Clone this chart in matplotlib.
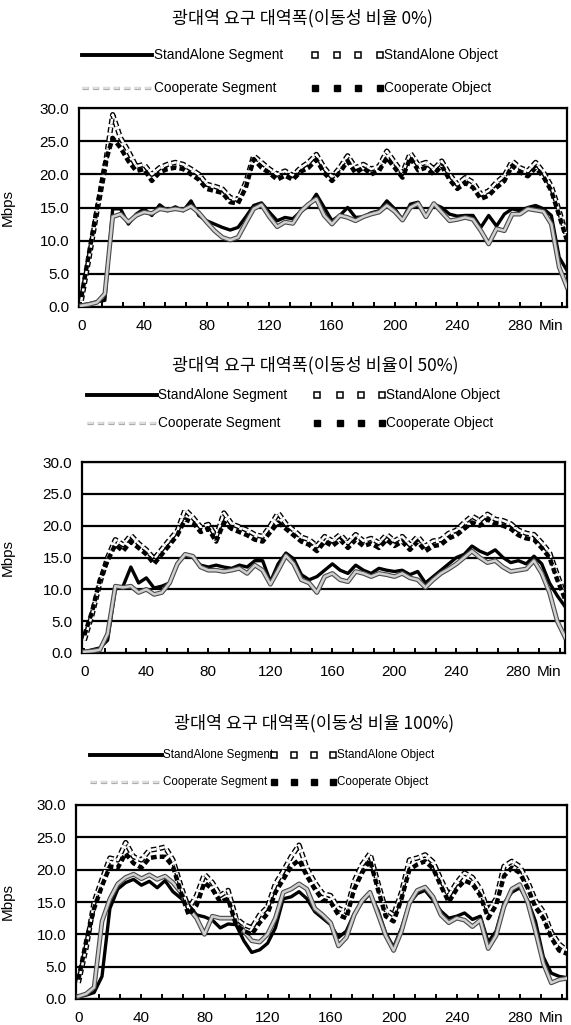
import matplotlib
matplotlib.use('Agg')
import matplotlib.pyplot as plt
import matplotlib.patheffects as pe
from matplotlib.lines import Line2D
from matplotlib.ticker import FixedLocator, FormatStrFormatter
from matplotlib import font_manager

plt.rcParams['font.family'] = ['Liberation Sans', 'DejaVu Sans']

# ---------------- data ----------------
minutes = list(range(0, 311, 5))
x_tick_values = [0, 40, 80, 120, 160, 200, 240, 280]
y_tick_values = [0, 5, 10, 15, 20, 25, 30]
series_names = ['StandAlone Segment', 'StandAlone Object',
                'Cooperate Segment', 'Cooperate Object']
titles = ['광대역 요구 대역폭(이동성 비율 0%)',
          '광대역 요구 대역폭(이동성 비율이 50%)',
          '광대역 요구 대역폭(이동성 비율 100%)']

p1_sa_seg = [0.3, 0.5, 0.8, 1.0, 14.8, 14.8, 12.5, 14.0, 14.8, 13.8,
             15.4, 14.5, 15.1, 14.5, 16.0, 13.8, 13.0, 12.5, 12.0, 11.6,
             12.0, 13.6, 15.3, 15.7, 14.3, 13.0, 13.5, 13.3, 14.4, 15.2,
             17.0, 15.0, 13.0, 13.8, 15.0, 13.5, 13.6, 14.2, 14.5, 16.0,
             14.8, 13.2, 15.5, 15.8, 13.6, 15.5, 15.0, 14.0, 13.7, 13.8,
             13.8, 12.0, 13.8, 12.2, 14.0, 14.8, 14.5, 15.0, 15.3, 14.8,
             13.8, 7.5, 5.5]
p1_co_seg = [0.2, 0.4, 0.7, 2.0, 13.6, 14.0, 12.8, 13.8, 14.3, 14.1,
             14.8, 14.6, 14.8, 14.6, 15.2, 14.2, 12.8, 11.5, 10.5, 10.1,
             10.5, 12.7, 14.8, 15.4, 13.6, 12.1, 12.8, 12.6, 14.4, 15.5,
             16.3, 13.8, 12.5, 13.8, 13.5, 13.0, 13.6, 14.0, 14.3, 15.3,
             14.4, 13.1, 15.0, 15.6, 13.6, 15.6, 14.3, 13.0, 13.2, 13.5,
             13.2, 11.5, 9.5, 11.8, 11.5, 14.0, 14.0, 14.8, 14.6, 14.4,
             12.5, 6.0, 3.0]
p1_co_obj = [1.5, 8.3, 15.0, 21.5, 25.5, 24.0, 22.0, 20.5, 20.8, 19.0,
             20.3, 20.8, 21.0, 20.8, 20.0, 19.2, 17.8, 17.5, 17.2, 15.8,
             15.6, 18.0, 22.3, 21.0, 20.2, 19.2, 19.8, 19.2, 20.4, 21.0,
             22.2, 20.2, 19.0, 20.3, 22.0, 20.2, 21.0, 20.0, 20.5, 22.5,
             21.0, 19.5, 22.5, 20.6, 21.0, 20.0, 21.3, 19.2, 17.8, 18.7,
             18.0, 16.3, 16.8, 18.0, 19.0, 21.3, 20.3, 19.7, 21.0, 19.6,
             17.5, 13.8, 10.0]
p1_sa_obj = [1.0, 7.5, 14.5, 21.0, 29.0, 25.5, 23.5, 21.2, 21.5, 20.0,
             21.0, 21.5, 21.8, 21.5, 20.8, 20.0, 18.5, 18.2, 17.8, 16.5,
             16.2, 18.8, 22.8, 21.8, 20.8, 20.0, 20.5, 19.8, 21.0, 21.8,
             23.0, 21.0, 19.6, 21.0, 22.8, 21.0, 21.5, 20.8, 21.2, 23.5,
             21.8, 20.2, 23.2, 21.4, 21.8, 20.8, 22.0, 20.0, 18.5, 19.5,
             18.8, 17.0, 17.5, 18.8, 19.8, 22.0, 21.0, 20.5, 21.8, 20.3,
             18.2, 14.5, 10.5]

p2_sa_seg = [0.2, 0.5, 0.8, 2.0, 10.0, 10.5, 13.5, 11.0, 11.8, 10.2,
             10.5, 11.0, 14.0, 15.5, 15.0, 13.8, 13.5, 13.8, 13.5, 13.3,
             13.8, 13.5, 14.5, 14.5, 11.2, 14.0, 15.7, 14.8, 12.3, 11.5,
             12.0, 13.0, 14.0, 13.0, 12.5, 13.8, 13.0, 12.5, 13.3, 13.0,
             12.8, 13.0, 12.3, 12.8, 11.0, 12.0, 13.0, 14.0, 15.0, 15.5,
             16.8, 16.0, 15.5, 16.2, 15.0, 14.2, 14.5, 14.0, 15.2, 14.0,
             11.0, 9.0, 7.3]
p2_co_seg = [0.2, 0.3, 0.5, 3.0, 10.5, 10.3, 10.5, 9.5, 10.0, 9.2,
             9.5, 11.0, 14.0, 15.5, 15.2, 13.5, 13.0, 13.0, 12.8, 13.0,
             13.3, 12.5, 13.8, 13.0, 10.8, 13.0, 15.3, 14.0, 11.5, 11.0,
             9.5, 12.0, 12.5, 11.5, 11.2, 12.8, 12.5, 12.0, 12.5, 12.3,
             12.0, 12.5, 11.8, 11.5, 10.3, 11.5, 12.5, 13.2, 14.0, 15.0,
             16.0, 15.0, 14.2, 14.5, 13.5, 12.8, 13.0, 13.2, 14.5, 12.5,
             9.5, 5.0, 2.5]
p2_co_obj = [2.8, 6.5, 11.5, 14.5, 17.0, 16.0, 17.5, 16.5, 15.5, 14.0,
             15.5, 17.0, 18.5, 21.0, 20.5, 19.0, 19.5, 17.5, 20.5, 19.5,
             19.0, 18.5, 17.8, 17.5, 19.0, 20.5, 19.5, 18.5, 17.5, 17.0,
             16.0, 17.5, 16.8, 17.8, 16.5, 17.8, 16.8, 17.2, 16.5, 17.8,
             16.8, 17.5, 16.2, 17.5, 16.0, 16.8, 17.0, 18.0, 18.5, 19.5,
             20.5, 20.0, 21.0, 20.3, 20.0, 19.5, 18.5, 18.0, 17.8, 16.5,
             15.0, 11.5, 8.5]
p2_sa_obj = [2.0, 6.0, 11.0, 15.0, 17.8, 17.0, 18.5, 17.2, 16.2, 14.8,
             16.3, 17.8, 19.2, 22.5, 21.3, 19.8, 20.2, 18.3, 22.0, 20.3,
             19.8, 19.3, 18.6, 18.3, 20.0, 22.0, 20.3, 19.3, 18.2, 17.8,
             16.8, 18.3, 17.6, 18.6, 17.3, 18.6, 17.6, 18.0, 17.3, 18.6,
             17.6, 18.3, 17.0, 18.3, 16.8, 17.6, 17.8, 18.8, 19.3, 20.5,
             21.5, 20.8, 21.8, 21.0, 20.8, 20.3, 19.3, 18.8, 18.6, 17.3,
             15.8, 12.3, 9.0]

p3_sa_seg = [0.3, 0.6, 1.0, 3.5, 14.0, 17.0, 18.0, 18.5, 17.6, 18.2,
             17.2, 18.3, 16.6, 15.6, 14.5, 13.0, 12.7, 12.2, 11.0, 11.6,
             11.5, 9.0, 7.2, 7.6, 8.6, 11.0, 15.5, 15.8, 16.6, 15.5,
             13.5, 12.5, 11.5, 9.5, 10.5, 13.2, 15.0, 16.3, 13.8, 10.2,
             8.0, 11.0, 14.8, 16.3, 16.8, 15.3, 13.6, 12.5, 12.8, 13.3,
             12.3, 12.8, 8.8, 10.5, 14.8, 16.5, 17.2, 15.3, 12.0, 6.5,
             4.0, 3.5, 3.3]
p3_co_seg = [0.4, 0.8, 1.8, 12.0, 15.5, 17.8, 18.8, 19.3, 18.6, 19.2,
             18.5, 19.0, 18.0, 16.5, 14.0, 12.5, 10.0, 12.8, 12.5, 12.5,
             12.5, 10.5, 9.0, 8.8, 10.0, 12.5, 16.5, 17.0, 17.8, 17.0,
             14.0, 13.0, 11.8, 8.2, 9.5, 13.0, 15.2, 16.5, 13.2, 9.8,
             7.5, 10.5, 14.8, 16.8, 17.3, 15.8, 13.0, 11.8, 12.5, 12.2,
             11.2, 12.2, 7.8, 9.8, 14.3, 17.0, 17.7, 15.0, 10.5, 5.5,
             2.5, 3.0, 3.2]
p3_co_obj = [3.0, 9.0, 14.0, 17.5, 20.5, 20.3, 22.5, 21.0, 20.3, 21.8,
             22.0, 22.0, 20.5, 16.5, 13.0, 14.5, 18.0, 17.0, 15.0, 15.5,
             11.5, 10.5, 10.0, 11.8, 13.2, 16.5, 18.5, 20.5, 21.5, 19.0,
             17.0, 15.3, 15.0, 13.0, 12.5, 17.0, 19.5, 21.5, 17.0, 12.8,
             12.0, 15.5, 20.0, 20.8, 21.3, 20.2, 17.5, 15.0, 17.0, 18.3,
             17.8, 16.0, 12.5, 14.5, 19.0, 20.3, 19.5, 17.2, 14.2, 12.5,
             9.5, 7.5, 7.0]
p3_sa_obj = [2.5, 8.0, 15.0, 18.5, 21.8, 21.5, 24.2, 22.0, 21.5, 23.0,
             23.2, 23.5, 21.5, 17.5, 14.0, 16.0, 19.3, 18.0, 16.0, 16.8,
             12.5, 11.5, 11.0, 13.0, 14.2, 17.8, 19.8, 22.0, 23.8, 20.2,
             18.0, 16.3, 16.0, 14.0, 13.5, 18.2, 20.8, 22.5, 18.0, 13.8,
             13.0, 16.5, 21.5, 21.8, 22.3, 21.2, 18.5, 16.0, 18.0, 19.5,
             18.8, 17.0, 13.5, 15.5, 20.5, 21.3, 20.5, 18.2, 15.2, 13.5,
             10.3, 8.5, 7.5]

panel_data = [
    (p1_sa_seg, p1_sa_obj, p1_co_seg, p1_co_obj),
    (p2_sa_seg, p2_sa_obj, p2_co_seg, p2_co_obj),
    (p3_sa_seg, p3_sa_obj, p3_co_seg, p3_co_obj),
]

# ---------------- fonts ----------------
installed = {f.name for f in font_manager.fontManager.ttflist}
if 'Liberation Sans Narrow' in installed:
    narrow_font = dict(family=['Liberation Sans Narrow', 'Liberation Sans'],
                       fontsize=10)
else:
    narrow_font = dict(family=['Liberation Sans', 'DejaVu Sans'],
                       fontsize=8.4)
normal_font = dict(family=['Liberation Sans', 'DejaVu Sans'], fontsize=9.8)

# ---------------- layout (pixels) ----------------
W, H = 571, 1025
layout = [
    dict(box=(79, 108, 567, 307), title=(302, 18), rows=(55, 88),
         seg=(82, 152, 154), obj=([315, 337, 358, 380], 384),
         font=normal_font),
    dict(box=(82, 462, 565, 653), title=(315, 365), rows=(395, 423),
         seg=(87, 157, 158), obj=([317, 340, 361, 382], 386),
         font=normal_font),
    dict(box=(76, 805, 567, 999), title=(314, 723), rows=(755, 782),
         seg=(90, 162, 163), obj=([274, 294, 314, 333], 337),
         font=narrow_font),
]


def fx(px):
    return px / W


def fy(py):
    return 1 - py / H


fig = plt.figure(figsize=(W / 100, H / 100), dpi=100)

seg_gray_pe = [pe.Stroke(linewidth=3.4, foreground='#4a4a4a'), pe.Normal()]
sa_obj_pe = [pe.Stroke(linewidth=3.8, foreground='black'), pe.Normal()]

for i, lay in enumerate(layout):
    x0, y0, x1, y1 = lay['box']
    ax = fig.add_axes([fx(x0), fy(y1), (x1 - x0) / W, (y1 - y0) / H])
    sa_seg, sa_obj, co_seg, co_obj = panel_data[i]

    ax.plot(minutes, sa_seg, color='black', lw=2.4, zorder=3,
            solid_joinstyle='round')
    ax.plot(minutes, co_seg, color='#cfcfcf', lw=1.8, zorder=4,
            path_effects=seg_gray_pe)
    ax.plot(minutes, sa_obj, color='white', lw=1.8, zorder=5,
            linestyle=(0, (2.2, 1.2)), path_effects=sa_obj_pe)
    ax.plot(minutes, co_obj, color='black', lw=3.2, zorder=6,
            linestyle=(0, (1.3, 0.7)))

    ax.set_xlim(-1.5, 310)
    ax.set_ylim(0, 30)
    ax.yaxis.set_major_locator(FixedLocator(y_tick_values))
    ax.yaxis.set_major_formatter(FormatStrFormatter('%.1f'))
    ax.xaxis.set_major_locator(FixedLocator(x_tick_values))
    ax.xaxis.set_minor_locator(FixedLocator(
        [v * 40 / 3 for v in range(0, 24) if v % 3 != 0]))
    ax.grid(axis='y', color='black', lw=1.6)
    ax.set_axisbelow(True)
    for s in ax.spines.values():
        s.set_linewidth(1.6)
        s.set_color('black')
    ax.tick_params(axis='y', length=0, pad=7, labelsize=11)
    ax.tick_params(axis='x', which='both', direction='in', length=3.5,
                   width=1.4, pad=9, labelsize=11)
    ax.annotate('Min', xy=(300, 0), xycoords=('data', 'axes fraction'),
                xytext=(0, -9), textcoords='offset points',
                ha='center', va='top', fontsize=11)
    ax.set_ylabel('Mbps', fontsize=11)
    ax.yaxis.set_label_coords((15 - x0) / (x1 - x0), 0.5)

    # title
    tx, ty = lay['title']
    fig.text(fx(tx), fy(ty), titles[i], ha='center', va='center',
             fontsize=12.5, family=['Noto Sans CJK KR', 'DejaVu Sans'])

    # legend (manual, 2 x 2)
    r1, r2 = lay['rows']
    sx0, sx1, stx = lay['seg']
    mx, otx = lay['obj']
    f = lay['font']
    fig.add_artist(Line2D([fx(sx0), fx(sx1)], [fy(r1), fy(r1)],
                          transform=fig.transFigure, color='black', lw=2.8))
    fig.text(fx(stx), fy(r1), series_names[0], ha='left', va='center', **f)
    fig.add_artist(Line2D([fx(sx0), fx(sx1)], [fy(r2), fy(r2)],
                          transform=fig.transFigure, color='#dddddd', lw=1.5,
                          linestyle=(0, (3, 2)),
                          path_effects=[pe.Stroke(linewidth=2.3,
                                                  foreground='#aaaaaa'),
                                        pe.Normal()]))
    fig.text(fx(stx), fy(r2), series_names[2], ha='left', va='center', **f)
    fig.add_artist(Line2D([fx(m) for m in mx], [fy(r1)] * len(mx),
                          transform=fig.transFigure, linestyle='none',
                          marker='s', markersize=4.2, markerfacecolor='white',
                          markeredgecolor='black', markeredgewidth=1.1))
    fig.text(fx(otx), fy(r1), series_names[1], ha='left', va='center', **f)
    fig.add_artist(Line2D([fx(m) for m in mx], [fy(r2)] * len(mx),
                          transform=fig.transFigure, linestyle='none',
                          marker='s', markersize=4.2, markerfacecolor='black',
                          markeredgecolor='black'))
    fig.text(fx(otx), fy(r2), series_names[3], ha='left', va='center', **f)

fig.savefig('out.png', dpi=100)
